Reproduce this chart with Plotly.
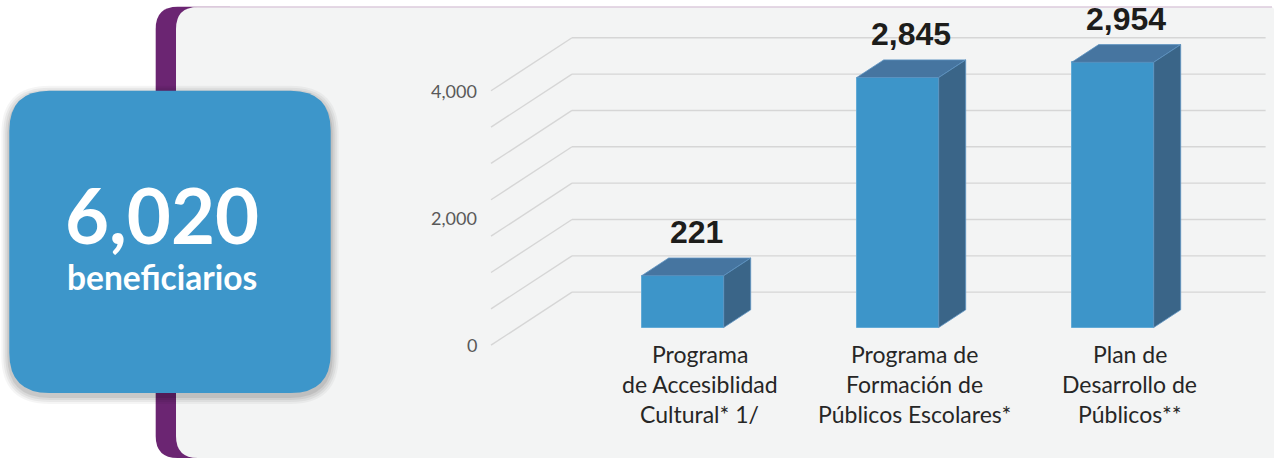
import plotly.graph_objects as go

# ---- data ----
program_lines = [
    ["Programa", "de Accesiblidad", "Cultural* 1/"],
    ["Programa de", "Formación de", "Públicos Escolares*"],
    ["Plan de", "Desarrollo de", "Públicos**"],
]
bar_heights = [815, 3930, 4170]          # heights as drawn against the gridlines
value_labels = ["221", "2,845", "2,954"]
grid_values = [0, 571, 1143, 1714, 2286, 2857, 3429, 4000]
tick_values = [0, 2000, 4000]
tick_text = ["0", "2,000", "4,000"]
total_text = "6,020"
total_caption = "beneficiarios"

# ---- layout constants (pixel scale of the oblique 3D look) ----
W, H = 1278, 459
X0_PX, PX_PER_X = 682.7, 215.0
Y0_PX, PX_PER_Y = 327.5, 0.0636
DX, DY = 81 / PX_PER_X, 53 / PX_PER_Y      # full wall depth
BAR_W = 82 / PX_PER_X
WALL_L, WALL_R = -0.766, 2.46

FRONT = "#3d95c9"
TOP = "#4675a0"
SIDE = "#3a6588"
GRID = "#d6d6d6"


def proj(x, y, d):
    """oblique projection, d=0 front of floor, d=1 back wall"""
    return x + (d - 1 / 3) * DX, y + (d - 1 / 3) * DY


def px(x):
    return x / W


def py(y):
    return 1 - y / H


def rrect(x0, y0, x1, y1, tl, tr, br, bl):
    pts = [
        ("M", [(x0 + tl, y0)]), ("L", [(x1 - tr, y0)]), ("Q", [(x1, y0), (x1, y0 + tr)]),
        ("L", [(x1, y1 - br)]), ("Q", [(x1, y1), (x1 - br, y1)]),
        ("L", [(x0 + bl, y1)]), ("Q", [(x0, y1), (x0, y1 - bl)]),
        ("L", [(x0, y0 + tl)]), ("Q", [(x0, y0), (x0 + tl, y0)]),
    ]
    out = ""
    for cmd, p in pts:
        out += cmd + " ".join(f"{px(a):.5f},{py(b):.5f}" for a, b in p) + " "
    return out + "Z"


fig = go.Figure()

# gridlines (back wall + side wall) as shapes under the bars
grid_shapes = []
for v in grid_values:
    for a, b in [((WALL_L, v, 0), (WALL_L, v, 1)), ((WALL_L, v, 1), (WALL_R, v, 1))]:
        p0, p1 = proj(*a), proj(*b)
        grid_shapes.append(dict(type="line", xref="x", yref="y", layer="below",
                                x0=p0[0], y0=p0[1], x1=p1[0], y1=p1[1],
                                line=dict(color=GRID, width=1.4)))

# bars: front faces
xs = list(range(len(bar_heights)))
fig.add_trace(go.Bar(x=xs, y=bar_heights, width=BAR_W, base=0,
                     marker=dict(color=FRONT, line=dict(color="#62aad6", width=1)),
                     hoverinfo="skip", showlegend=False))

# top and side faces
for i, h in zip(xs, bar_heights):
    l, r = i - BAR_W / 2, i + BAR_W / 2
    top = [proj(l, h, 1 / 3), proj(r, h, 1 / 3), proj(r, h, 2 / 3), proj(l, h, 2 / 3)]
    side = [proj(r, 0, 1 / 3), proj(r, h, 1 / 3), proj(r, h, 2 / 3), proj(r, 0, 2 / 3)]
    for poly, col in [(top, TOP), (side, SIDE)]:
        fig.add_trace(go.Scatter(
            x=[p[0] for p in poly] + [poly[0][0]], y=[p[1] for p in poly] + [poly[0][1]],
            mode="lines", fill="toself", fillcolor=col, line=dict(color="#5d93c2", width=0.8),
            hoverinfo="skip", showlegend=False))

annotations = []
# value labels
for i, h, t in zip(xs, bar_heights, value_labels):
    x, y = proj(i, h, 2 / 3)
    annotations.append(dict(x=x - DX / 6, y=y, text=f"<b>{t}</b>", showarrow=False,
                            xanchor="center", yanchor="bottom", yshift=6,
                            font=dict(family="Liberation Sans", size=32, color="#1d1d1b"),
                            xref="x", yref="y"))
# category labels
for i, lines in zip(xs, program_lines):
    x, y = proj(i, 0, 0)
    for k, line in enumerate(lines):
        annotations.append(dict(x=i + 17 / PX_PER_X, y=y, text=line, showarrow=False,
                                xanchor="center", yanchor="top", yshift=7 - 30 * k,
                                font=dict(family="Lato", size=23, color="#262626"),
                                xref="x", yref="y"))
# value-axis labels
for v, t in zip(tick_values, tick_text):
    x, y = proj(WALL_L, v, 0)
    annotations.append(dict(x=x, y=y, text=t, showarrow=False, xanchor="right",
                            yanchor="middle", xshift=-12,
                            font=dict(family="Lato", size=18, color="#595959"),
                            xref="x", yref="y"))
# KPI box text
annotations.append(dict(x=px(162), y=py(215), text=f"<b>{total_text}</b>", showarrow=False,
                        xref="paper", yref="paper", xanchor="center", yanchor="middle",
                        font=dict(family="Lato", size=76, color="white")))
annotations.append(dict(x=px(162), y=py(277), text=f"<b>{total_caption}</b>", showarrow=False,
                        xref="paper", yref="paper", xanchor="center", yanchor="middle",
                        font=dict(family="Lato", size=33.5, color="white")))

shapes = [
    # purple strip
    dict(type="path", path=rrect(155.7, 6.7, 230, 458, 22, 0, 0, 22), fillcolor="#6b2572",
         line=dict(width=0)),
    # grey panel
    dict(type="path", path=rrect(176, 7, 1274, 458, 22, 3, 0, 22), fillcolor="#f3f4f4",
         line=dict(width=0)),
    dict(type="line", x0=px(195), x1=px(1272), y0=py(7), y1=py(7),
         line=dict(color="#dccbdd", width=1.5)),
]
# soft shadow of the KPI box
for k, a in [(8, 0.04), (6, 0.05), (4, 0.06), (2, 0.08)]:
    shapes.append(dict(type="path", path=rrect(9.3 - k, 90.7 - k + 3, 330.7 + k, 393 + k + 3,
                                               40 + k, 40 + k, 40 + k, 40 + k),
                       fillcolor=f"rgba(0,0,0,{a})", line=dict(width=0)))
shapes.append(dict(type="path", path=rrect(9.3, 90.7, 330.7, 393, 40, 40, 40, 40),
                   fillcolor="#3d96ca", line=dict(width=0)))
for s in shapes:
    s.update(xref="paper", yref="paper", layer="below")

fig.update_layout(
    width=W, height=H,
    margin=dict(l=0, r=0, t=0, b=0),
    paper_bgcolor="white",
    plot_bgcolor="rgba(0,0,0,0)",
    xaxis=dict(range=[-X0_PX / PX_PER_X, (W - X0_PX) / PX_PER_X], visible=False, fixedrange=True),
    yaxis=dict(range=[-(H - Y0_PX) / PX_PER_Y, Y0_PX / PX_PER_Y], visible=False, fixedrange=True),
    shapes=shapes + grid_shapes,
    annotations=annotations,
    bargap=0,
)

fig.write_html("out.html", config={"displayModeBar": False},
               post_script="document.body.style.margin='0';")
